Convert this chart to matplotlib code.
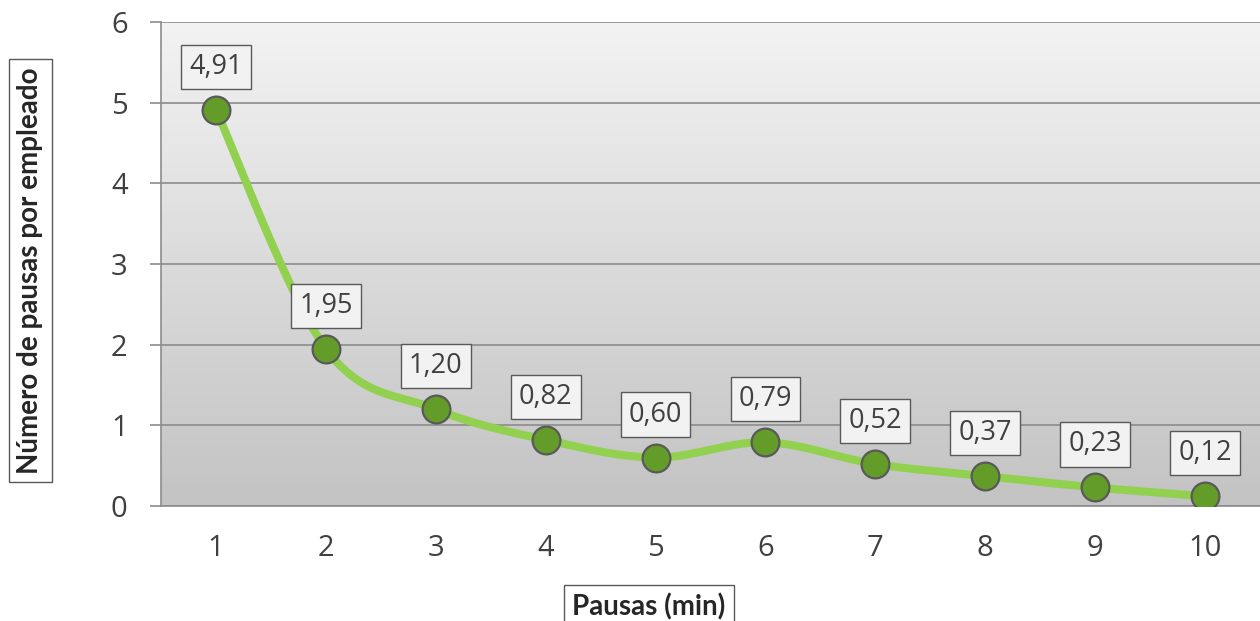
import numpy as np
import matplotlib
matplotlib.use("Agg")
import matplotlib.pyplot as plt

# data
pausas = [1, 2, 3, 4, 5, 6, 7, 8, 9, 10]
num_pausas = [4.91, 1.95, 1.20, 0.82, 0.60, 0.79, 0.52, 0.37, 0.23, 0.12]
etiquetas = ["4,91", "1,95", "1,20", "0,82", "0,60", "0,79", "0,52", "0,37", "0,23", "0,12"]
y_ticks = [0, 1, 2, 3, 4, 5, 6]


def smooth_curve(x, y, n=30):
    # Catmull-Rom style smoothing, like Excel's "smoothed line"
    x = np.asarray(x, float)
    y = np.asarray(y, float)
    px = np.concatenate([[x[0]], x, [x[-1]]])
    py = np.concatenate([[y[0]], y, [y[-1]]])
    xs, ys = [], []
    t = np.linspace(0, 1, n)
    for i in range(1, len(px) - 2):
        p0, p1, p2, p3 = (np.array([px[j], py[j]]) for j in (i - 1, i, i + 1, i + 2))
        c1 = p1 + (p2 - p0) / 6
        c2 = p2 - (p3 - p1) / 6
        b = ((1 - t) ** 3)[:, None] * p1 + (3 * (1 - t) ** 2 * t)[:, None] * c1 \
            + (3 * (1 - t) * t ** 2)[:, None] * c2 + (t ** 3)[:, None] * p2
        xs.extend(b[:, 0])
        ys.extend(b[:, 1])
    return xs, ys


fig = plt.figure(figsize=(12.6, 6.21), dpi=100)
ax = fig.add_axes([0.1278, 0.1852, 0.8722, 0.7794])

ax.set_xlim(0.5, 10.5)
ax.set_ylim(0, 6)

# gradient background
grad = np.linspace(0, 1, 256)[:, None]
ax.imshow(grad, extent=[0, 1, 0, 1], transform=ax.transAxes, aspect="auto",
          cmap=matplotlib.colors.LinearSegmentedColormap.from_list("bg", ["#f3f3f3", "#c3c3c3"]),
          zorder=0)

ax.grid(axis="y", color="#8c8c8c", lw=1.2, zorder=1)
ax.set_yticks(y_ticks)
ax.set_xticks(pausas)

for s in ["top", "right"]:
    ax.spines[s].set_visible(False)
ax.spines["left"].set_color("#8c8c8c")
ax.spines["bottom"].set_color("#8c8c8c")
ax.spines["left"].set_linewidth(1.2)
ax.spines["bottom"].set_linewidth(1.2)

ax.tick_params(axis="y", length=8, width=1.2, color="#8c8c8c", pad=16,
               labelsize=21, labelcolor="#404040")
ax.tick_params(axis="x", length=0, pad=20, labelsize=21, labelcolor="#404040")
for lab in ax.get_xticklabels() + ax.get_yticklabels():
    lab.set_fontfamily("Open Sans")

sx, sy = smooth_curve(pausas, num_pausas)
ax.plot(sx, sy, color="#92d050", lw=5.8, solid_capstyle="round", zorder=3)
ax.plot(pausas, num_pausas, "o", ms=20, mfc="#649c2a", mec="#595959", mew=1.6, zorder=4)

for xv, yv, t in zip(pausas, num_pausas, etiquetas):
    ax.annotate(t, (xv, yv), xytext=(0, 31), textcoords="offset points",
                ha="center", va="center", fontsize=19.5, family="Open Sans", color="#404040",
                bbox=dict(boxstyle="square,pad=0.3", fc="#f2f2f2", ec="#595959", lw=1),
                zorder=5)

fig.text(0.024, 0.5645, "Número de pausas por empleado", rotation=90, ha="center", va="center",
         fontsize=20, fontweight="bold", family="Lato", color="#262626",
         bbox=dict(boxstyle="square,pad=0.3", fc="white", ec="#595959", lw=1))
fig.text(0.515, 0.022, "Pausas (min)", ha="center", va="center",
         fontsize=20, fontweight="bold", family="Lato", color="#262626",
         bbox=dict(boxstyle="square,pad=0.3", fc="white", ec="#595959", lw=1))

fig.savefig("out.png", dpi=100)
